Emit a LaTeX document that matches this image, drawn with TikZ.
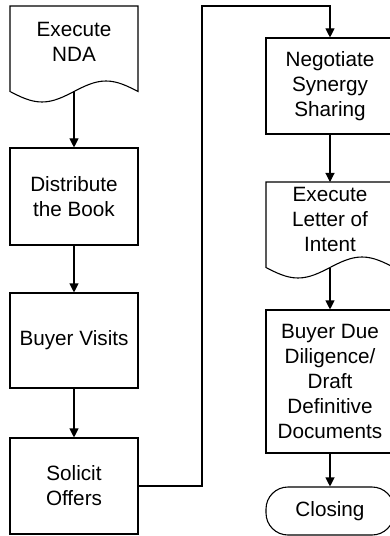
\documentclass[tikz,border=0pt]{standalone}
\usepackage{fontspec}
\setmainfont{Liberation Sans}
\usetikzlibrary{arrows.meta}
\begin{document}
\begin{tikzpicture}[x=1bp,y=-1bp,
  every node/.style={font=\fontsize{20.7bp}{25bp}\selectfont, align=center, inner sep=0pt},
  box/.style={draw, line width=1.1bp, minimum width=128bp},
  flow/.style={line width=1.1bp, -{Triangle[width=9bp,length=9bp]}},
  outline/.style={line width=1.1bp},
]
\useasboundingbox (0,0) rectangle (389,536);

% document-shaped steps (wavy bottom edge)
\node (nda) at (74,42) {Execute\\NDA};
\draw[outline] (10,91.5) -- (10,6) -- (138,6) -- (138,91.5)
  sin (106,81) cos (74,91.5) sin (42,102) cos (10,91.5) -- cycle;
\coordinate (nda-end) at (74,91.5);

\node (loi) at (330,219.4) {Execute\\Letter of\\Intent};
\draw[outline] (266,267.5) -- (266,182) -- (394,182) -- (394,267.5)
  sin (362,257) cos (330,267.5) sin (298,278) cos (266,267.5) -- cycle;
\coordinate (loi-top) at (330,182);
\coordinate (loi-end) at (330,267.5);

% process boxes
\node[box, minimum height=97bp] (dist) at (74,196.5) {Distribute\\the Book};
\node[box, minimum height=95bp] (visit) at (74,340.5) {Buyer Visits};
\node[box, minimum height=96bp] (solicit) at (74,486) {Solicit\\Offers};
\node[box, minimum height=96bp] (nego) at (330,86) {Negotiate\\Synergy\\Sharing};
\node[box, minimum height=143bp] (due) at (330,381.5) {Buyer Due\\Diligence/\\Draft\\Definitive\\Documents};

% terminator
\node[box, rounded corners=22bp, minimum height=48bp] (close) at (330,511) {Closing};

% connectors
\coordinate (hop) at (202,6);
\draw[flow] (nda-end) -- (dist);
\draw[flow] (dist) -- (visit);
\draw[flow] (visit) -- (solicit);
\draw[flow] (solicit.east) -| (hop) -| (nego.north);
\draw[flow] (nego) -- (loi-top);
\draw[flow] (loi-end) -- (due);
\draw[flow] (due) -- (close);
\end{tikzpicture}
\end{document}
